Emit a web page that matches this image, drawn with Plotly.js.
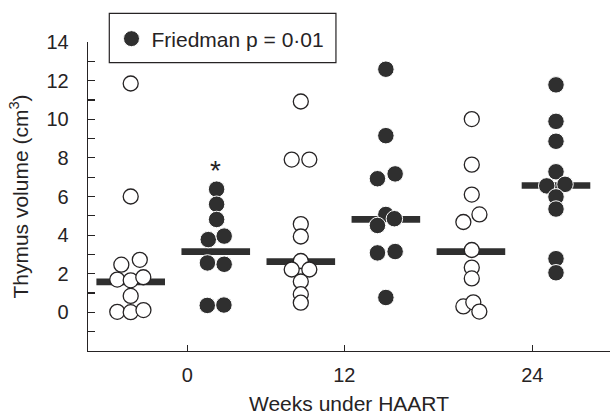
<!DOCTYPE html>
<html>
<head>
<meta charset="utf-8">
<script src="https://cdn.plot.ly/plotly-3.0.1.min.js"></script>
<style>
  html, body { margin: 0; padding: 0; background: #ffffff; }
  #chart { width: 612px; height: 419px; }
</style>
</head>
<body>
<div id="chart"></div>
<script>
// ---- Data ----
const weekLabels = ['0', '12', '24'];
const weekTickPos = [1.665, 3.511, 5.721];

const yTickVals = [-1, 0, 1, 2, 3, 4, 5, 6, 7, 8, 9, 10, 11, 12, 13, 14];
const yTickText = ['', '0', '', '2', '', '4', '', '6', '', '8', '', '10', '', '12', '', '14'];

// group slots along the x axis (open / filled alternate)
const groupPos = [1, 2, 3, 4, 5, 6];

const openW0 = [11.85, 6.0, 2.47, 2.72, 1.70, 1.66, 1.82, 0.85, 0.03, 0.01, 0.12];
const openW0Jit = [0, 0, -0.11, 0.107, -0.158, 0, 0.148, 0, -0.158, 0, 0.15];

const filledW0 = [6.38, 5.60, 4.81, 3.77, 3.95, 2.56, 2.49, 0.36, 0.38];
const filledW0Jit = [0.01, 0.01, 0.01, -0.088, 0.099, -0.098, 0.099, -0.10, 0.096];

const openW12 = [10.92, 7.91, 7.91, 4.57, 3.93, 2.66, 2.22, 2.22, 1.60, 0.94, 0.50];
const openW12Jit = [0, -0.107, 0.10, 0, 0, 0, -0.107, 0.10, 0, 0, 0];

const filledW12 = [12.59, 9.15, 6.92, 7.17, 5.07, 4.85, 4.50, 3.08, 3.15, 0.77];
const filledW12Jit = [0, 0, -0.099, 0.109, 0, 0.10, -0.099, -0.099, 0.109, 0];

const openW24 = [10.01, 7.65, 6.10, 5.07, 4.68, 3.23, 2.32, 1.76, 0.31, 0.52, 0.04];
const openW24Jit = [0.01, 0.01, 0.01, 0.10, -0.089, 0.01, 0.01, 0.01, -0.089, 0.028, 0.099];

const filledW24 = [11.78, 9.89, 8.86, 7.28, 6.55, 6.63, 5.98, 5.35, 2.78, 2.05];
const filledW24Jit = [0, 0, 0, 0, -0.109, 0.106, 0, 0, 0, 0];

const groupMedians = [1.58, 3.15, 2.63, 4.82, 3.15, 6.57];

const sigGroup = 2;
const sigLabel = '*';
const sigY = 7.35;

const legendLabel = 'Friedman p = 0·01';

// ---- Build traces ----
const ink = '#262324';
const fillCol = '#2f2f2f';
const fontFam = '"Liberation Sans", Arial, Helvetica, sans-serif';

function xs(pos, jit) { return jit.map(j => pos + j); }

const openSets = [[openW0, openW0Jit, groupPos[0]], [openW12, openW12Jit, groupPos[2]], [openW24, openW24Jit, groupPos[4]]];
const filledSets = [[filledW0, filledW0Jit, groupPos[1]], [filledW12, filledW12Jit, groupPos[3]], [filledW24, filledW24Jit, groupPos[5]]];

const traces = [];

// median bars
traces.push({
  type: 'scatter', mode: 'markers',
  x: groupPos, y: groupMedians,
  marker: { symbol: 'line-ew', size: 49, color: fillCol, line: { color: fillCol, width: 6.7 } },
  showlegend: false, hoverinfo: 'skip'
});

openSets.forEach(([vals, jit, pos]) => {
  traces.push({
    type: 'scatter', mode: 'markers',
    x: xs(pos, jit), y: vals,
    marker: { symbol: 'circle', size: 15, color: '#ffffff', line: { color: ink, width: 1.3 } },
    showlegend: false, cliponaxis: false
  });
});

filledSets.forEach(([vals, jit, pos], i) => {
  traces.push({
    type: 'scatter', mode: 'markers',
    x: xs(pos, jit), y: vals,
    name: legendLabel,
    legendgroup: 'filled',
    showlegend: i === 0,
    marker: { symbol: 'circle', size: 16.5, color: fillCol, line: { color: '#ffffff', width: 1 } },
    cliponaxis: false
  });
});

const layout = {
  width: 612, height: 419,
  margin: { l: 88, r: 2, t: 42, b: 68, pad: 0 },
  paper_bgcolor: '#ffffff', plot_bgcolor: '#ffffff',
  font: { family: fontFam, color: ink },
  showlegend: true,
  legend: {
    x: 0.045, xanchor: 'left', y: 1.0097, yanchor: 'middle',
    bgcolor: 'rgba(0,0,0,0)', borderwidth: 0,
    font: { family: fontFam, size: 21, color: ink },
    itemsizing: 'trace'
  },
  xaxis: {
    range: [0.498, 6.635],
    tickmode: 'array', tickvals: weekTickPos, ticktext: weekLabels,
    ticks: 'inside', ticklen: 6, tickwidth: 1.2, tickcolor: ink,
    showline: true, linecolor: ink, linewidth: 1.3,
    showgrid: false, zeroline: false, automargin: false,
    tickfont: { family: fontFam, size: 20, color: ink },
    ticklabelstandoff: 6,
    title: { text: 'Weeks under HAART', font: { family: fontFam, size: 21, color: ink }, standoff: 11 }
  },
  yaxis: {
    range: [-2, 14],
    tickmode: 'array', tickvals: yTickVals, ticktext: yTickText,
    ticks: 'inside', ticklen: 7, tickwidth: 1.2, tickcolor: ink,
    showline: true, linecolor: ink, linewidth: 1.3,
    showgrid: false, zeroline: false, automargin: false,
    tickfont: { family: fontFam, size: 20, color: ink },
    ticklabelstandoff: 14,
    title: { text: 'Thymus volume (cm<sup>3</sup>)', font: { family: fontFam, size: 21, color: ink }, standoff: 12 }
  },
  shapes: [{
    type: 'rect', xref: 'paper', yref: 'paper',
    x0: 0.0408, x1: 0.475, y0: 0.9330, y1: 1.0929,
    line: { color: ink, width: 1.2 }, fillcolor: 'rgba(0,0,0,0)', layer: 'above'
  }],
  annotations: [{
    x: groupPos[sigGroup - 1], y: sigY, xref: 'x', yref: 'y',
    text: sigLabel, showarrow: false,
    font: { family: fontFam, size: 28, color: ink },
    xanchor: 'center', yanchor: 'middle'
  }]
};

Plotly.newPlot('chart', traces, layout, { displayModeBar: false, staticPlot: true });
</script>
</body>
</html>
